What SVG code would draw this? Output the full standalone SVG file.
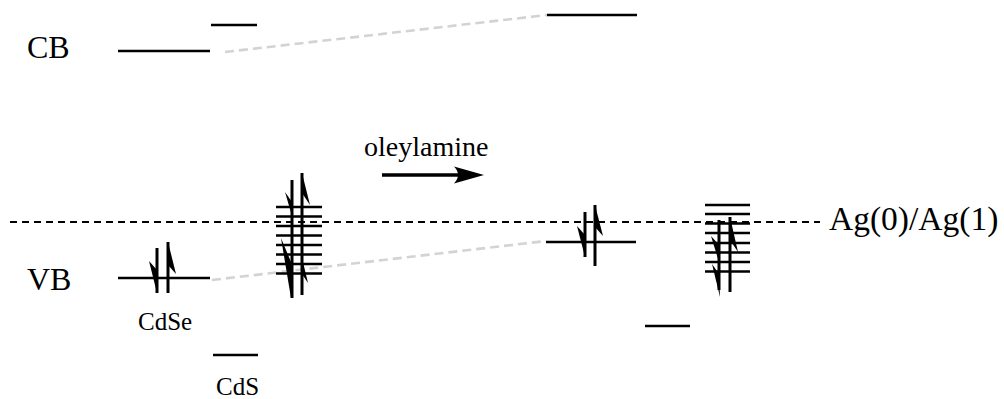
<svg xmlns="http://www.w3.org/2000/svg" width="1004" height="399" viewBox="0 0 1004 399">
<style>
.lvl{stroke:#000;stroke-width:2.6;fill:none}
.sp{stroke:#000;stroke-width:3;fill:none}
.bb{fill:#000;stroke:none}
.gd{stroke:#d3d3d3;stroke-width:2.6;stroke-dasharray:9 5;fill:none}
.bd{stroke:#000;stroke-width:2;stroke-dasharray:7 5;fill:none}
.t{font-family:"Liberation Serif","Times New Roman",serif;fill:#000}
</style>
<rect width="1004" height="399" fill="#fff"/>
<g id="connectors">
<line class="bd" x1="10" y1="222" x2="820" y2="222"/>
<line class="gd" x1="225" y1="52" x2="547" y2="15"/>
<line class="gd" x1="212" y1="280" x2="546" y2="241"/>
<g id="oleylamine-arrow">
<line x1="382" y1="175" x2="462" y2="175" stroke="#000" stroke-width="3.4"/>
<path class="bb" d="M484,175 L454,166.5 Q462,175 454,183.5 Z"/>
</g>
</g>
<g id="labels">
<text class="t" x="27" y="58" font-size="32">CB</text>
<text class="t" x="27" y="290" font-size="32">VB</text>
<text class="t" x="364" y="156" font-size="28">oleylamine</text>
<text class="t" x="829" y="230" font-size="33.5">Ag(0)/Ag(1)</text>
</g>
<g id="CdSe">
<line class="lvl" x1="118" y1="51" x2="210" y2="51"/>
<line class="lvl" x1="118" y1="278" x2="210" y2="278"/>
<line class="sp" x1="157" y1="248" x2="157" y2="293"/>
<polygon class="bb" points="157,293 149,261 157,270"/>
<line class="sp" x1="168" y1="242" x2="168" y2="293"/>
<polygon class="bb" points="168,242 176,274 168,265"/>
<text class="t" x="138" y="330" font-size="25">CdSe</text>
</g>
<g id="CdS">
<line class="lvl" x1="211" y1="25" x2="257" y2="25"/>
<line class="lvl" x1="213" y1="355" x2="258" y2="355"/>
<text class="t" x="216" y="395" font-size="25">CdS</text>
</g>
<g id="stack-left">
<line class="lvl" x1="276" y1="207" x2="322" y2="207"/>
<line class="lvl" x1="276" y1="216.5" x2="322" y2="216.5"/>
<line class="lvl" x1="276" y1="226" x2="322" y2="226"/>
<line class="lvl" x1="276" y1="235.5" x2="322" y2="235.5"/>
<line class="lvl" x1="276" y1="245" x2="322" y2="245"/>
<line class="lvl" x1="276" y1="254.5" x2="322" y2="254.5"/>
<line class="lvl" x1="276" y1="264" x2="322" y2="264"/>
<line class="lvl" x1="276" y1="273.5" x2="322" y2="273.5"/>
<line class="sp" x1="292" y1="180" x2="292" y2="298"/>
<polygon class="bb" points="292,216 285,192 292,202"/>
<polygon class="bb" points="291,298 281,238 291,262"/>
<line class="sp" x1="302" y1="173" x2="302" y2="295"/>
<polygon class="bb" points="302,173 310,205 302,193"/>
<polygon class="bb" points="302,258 308,283 302,274"/>
</g>
<g id="mid-right">
<line class="lvl" x1="547" y1="15" x2="637" y2="15"/>
<line class="lvl" x1="546" y1="242" x2="636" y2="242"/>
<line class="sp" x1="585" y1="212" x2="585" y2="257"/>
<polygon class="bb" points="585,257 577,226 585,235"/>
<line class="sp" x1="595" y1="205" x2="595" y2="266"/>
<polygon class="bb" points="595,205 603,236 595,227"/>
</g>
<g id="far-right">
<line class="lvl" x1="645" y1="326" x2="690" y2="326"/>
<line class="lvl" x1="705" y1="205" x2="750" y2="205"/>
<line class="lvl" x1="705" y1="214" x2="750" y2="214"/>
<line class="lvl" x1="705" y1="223.5" x2="750" y2="223.5"/>
<line class="lvl" x1="705" y1="233" x2="750" y2="233"/>
<line class="lvl" x1="705" y1="243" x2="750" y2="243"/>
<line class="lvl" x1="705" y1="252.5" x2="750" y2="252.5"/>
<line class="lvl" x1="705" y1="262" x2="750" y2="262"/>
<line class="lvl" x1="705" y1="271.5" x2="750" y2="271.5"/>
<line class="sp" x1="719" y1="220" x2="719" y2="290"/>
<polygon class="bb" points="719,262 711,236 719,245"/>
<polygon class="bb" points="720,297 712,264 719,274"/>
<line class="sp" x1="730" y1="217" x2="730" y2="292"/>
<polygon class="bb" points="730,217 738,252 730,240"/>
</g>
</svg>
